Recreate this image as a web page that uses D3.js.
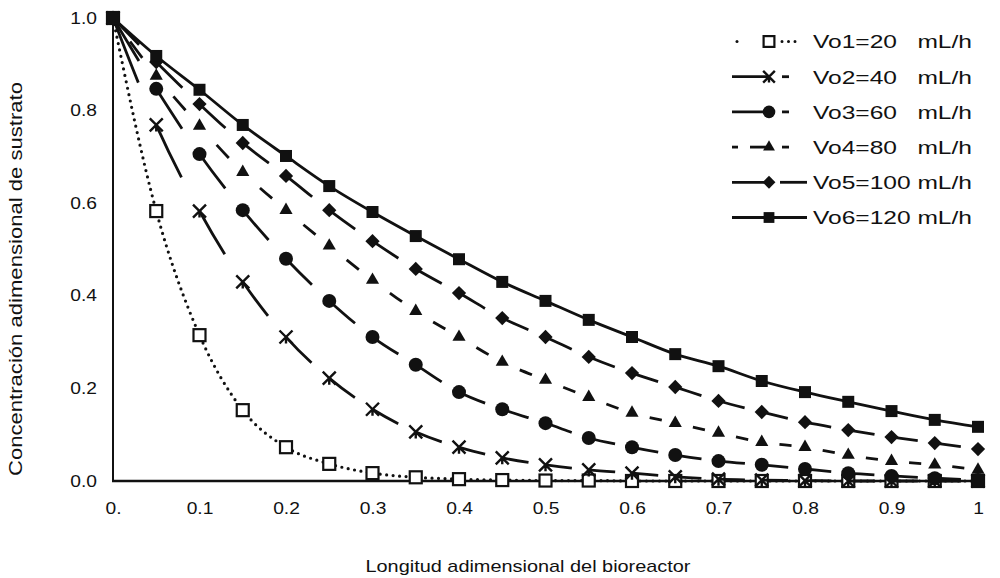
<!DOCTYPE html>
<html><head><meta charset="utf-8">
<script src="https://cdn.jsdelivr.net/npm/d3@7"></script>
<style>body{margin:0;background:#fff}svg{display:block}text{font-family:"Liberation Sans",Arial,sans-serif;fill:#111}</style>
</head><body>
<svg id="c" width="1000" height="578"></svg>
<script>
const xVals = [0,0.05,0.1,0.15,0.2,0.25,0.3,0.35,0.4,0.45,0.5,0.55,0.6,0.65,0.7,0.75,0.8,0.85,0.9,0.95,1.0];
const vo1 = [1.0,0.583,0.315,0.153,0.073,0.037,0.017,0.008,0.004,0.002,0.001,0.001,0,0,0,0,0,0,0,0,0];
const vo2 = [1.0,0.769,0.583,0.43,0.311,0.222,0.155,0.106,0.073,0.05,0.035,0.024,0.017,0.009,0.004,0.002,0.001,0,0,0,0];
const vo3 = [1.0,0.847,0.706,0.585,0.48,0.389,0.311,0.251,0.192,0.155,0.125,0.093,0.073,0.056,0.043,0.035,0.026,0.017,0.011,0.006,0.002];
const vo4 = [1.0,0.875,0.767,0.667,0.585,0.508,0.434,0.367,0.311,0.257,0.218,0.181,0.147,0.125,0.104,0.084,0.073,0.056,0.043,0.035,0.024];
const vo5 = [1.0,0.905,0.814,0.73,0.659,0.585,0.518,0.458,0.406,0.352,0.311,0.268,0.233,0.203,0.173,0.149,0.127,0.11,0.095,0.082,0.069];
const vo6 = [1.0,0.918,0.845,0.769,0.702,0.637,0.581,0.529,0.479,0.43,0.389,0.348,0.311,0.274,0.248,0.216,0.192,0.171,0.151,0.132,0.117];
const seriesNames = ["Vo1=20   mL/h","Vo2=40   mL/h","Vo3=60   mL/h","Vo4=80   mL/h","Vo5=100 mL/h","Vo6=120 mL/h"];
const xTickVals = [0,0.1,0.2,0.3,0.4,0.5,0.6,0.7,0.8,0.9,1];
const xTickLabels = ["0.","0.1","0.2","0.3","0.4","0.5","0.6","0.7","0.8","0.9","1"];
const yTickVals = [0,0.2,0.4,0.6,0.8,1.0];
const yTickLabels = ["0.0","0.2","0.4","0.6","0.8","1.0"];

const svg = d3.select("#c");
const x = d3.scaleLinear().domain([0,1]).range([113,978]);
const y = d3.scaleLinear().domain([0,1]).range([481,18]);
const INK = "#111";

const series = [vo1,vo2,vo3,vo4,vo5,vo6];
const styles = [
  {dash:"dot", marker:"openSquare"},
  {dash:"tail", marker:"star"},
  {dash:"tail", marker:"circle"},
  {dash:"mid", marker:"triangle"},
  {dash:"tail", marker:"diamond"},
  {dash:"solid", marker:"square"}
];

const line = d3.line().x(d=>x(d[0])).y(d=>y(d[1])).curve(d3.curveMonotoneX);

function stretch(sel, k){
  sel.each(function(){
    const w = this.getComputedTextLength();
    d3.select(this).attr("textLength", w*k).attr("lengthAdjust","spacingAndGlyphs");
  });
}

function drawMarker(g, type, cx, cy, scale){
  const s = scale||1;
  if(type==="openSquare"){
    g.append("rect").attr("x",cx-6*s).attr("y",cy-6*s).attr("width",12*s).attr("height",12*s)
      .attr("fill","#fff").attr("stroke",INK).attr("stroke-width",2.2);
  } else if(type==="square"){
    g.append("rect").attr("x",cx-6*s).attr("y",cy-6*s).attr("width",12*s).attr("height",12*s).attr("fill",INK);
  } else if(type==="circle"){
    g.append("circle").attr("cx",cx).attr("cy",cy).attr("r",7*s).attr("fill",INK);
  } else if(type==="diamond"){
    g.append("path").attr("d",d3.symbol(d3.symbolDiamond2, 130*s*s)()).attr("transform",`translate(${cx},${cy})`).attr("fill",INK);
  } else if(type==="triangle"){
    g.append("path").attr("d",d3.symbol(d3.symbolTriangle, 75*s*s)()).attr("transform",`translate(${cx},${cy})`).attr("fill",INK);
  } else if(type==="star"){
    const r=6.5*s;
    g.append("path").attr("d",`M${cx-r},${cy-r}L${cx+r},${cy+r}M${cx+r},${cy-r}L${cx-r},${cy+r}M${cx},${cy}L${cx},${cy+r}`)
      .attr("stroke",INK).attr("stroke-width",2.4).attr("fill","none");
  }
}

// axes
svg.append("line").attr("x1",x(0)).attr("x2",x(0)).attr("y1",y(1)-2).attr("y2",y(0)+1).attr("stroke",INK).attr("stroke-width",2);
svg.append("line").attr("x1",x(0)-1).attr("x2",x(1)+3).attr("y1",y(0)).attr("y2",y(0)).attr("stroke",INK).attr("stroke-width",2.4);

const xAxis = d3.axisBottom(x).tickValues(xTickVals).tickSize(0).tickPadding(22)
  .tickFormat((d,i)=>xTickLabels[i]);
svg.append("g").attr("transform",`translate(0,${y(0)})`).call(xAxis)
  .call(g=>g.select(".domain").remove())
  .call(g=>g.selectAll("text").attr("font-size",16).attr("font-family","Liberation Sans, Arial, sans-serif").attr("fill",INK).call(stretch,1.2));
const yAxis = d3.axisLeft(y).tickValues(yTickVals).tickSize(0).tickPadding(16)
  .tickFormat((d,i)=>yTickLabels[i]);
svg.append("g").attr("transform",`translate(${x(0)},0)`).call(yAxis)
  .call(g=>g.select(".domain").remove())
  .call(g=>g.selectAll("text").attr("font-size",16).attr("font-family","Liberation Sans, Arial, sans-serif").attr("fill",INK).call(stretch,1.2));

svg.append("text").attr("x",528).attr("y",572).attr("text-anchor","middle").attr("font-size",17)
  .attr("textLength",325).attr("lengthAdjust","spacingAndGlyphs")
  .text("Longitud adimensional del bioreactor");
svg.append("text").attr("transform","translate(22,279) rotate(-90)").attr("text-anchor","middle").attr("font-size",19)
  .attr("textLength",394).attr("lengthAdjust","spacingAndGlyphs")
  .text("Concentración adimensional de sustrato");

// lines
series.forEach((vals,si)=>{
  const pts = xVals.map((xv,i)=>[xv,vals[i]]);
  const st = styles[si];
  const p = svg.append("path").attr("d",line(pts)).attr("fill","none").attr("stroke",INK).attr("stroke-width",2.8);
  const node = p.node();
  const total = node.getTotalLength();
  if(st.dash==="dot"){
    p.attr("stroke-dasharray","0,6.5").attr("stroke-linecap","round").attr("stroke-width",3.2);
  } else if(st.dash!=="solid"){
    const targets = pts.map(d=>x(d[0]));
    const lens = [0]; let k=1;
    for(let L=0; L<=total && k<targets.length; L+=0.5){
      const pt = node.getPointAtLength(L);
      if(pt.x>=targets[k]){ lens.push(L); k++; }
    }
    while(lens.length<targets.length) lens.push(total);
    const arr=[];
    for(let i=1;i<lens.length;i++){
      const sl = lens[i]-lens[i-1];
      if(st.dash==="tail"){ arr.push(sl*0.6, sl*0.4); }
      else { arr.push(0, sl*0.4, sl*0.28, sl*0.32); }
    }
    p.attr("stroke-dasharray",arr.join(","));
  }
  const mg = svg.append("g");
  pts.forEach(d=>drawMarker(mg, st.marker, x(d[0]), y(d[1])));
});

// legend
const legRows = [41.5,76.7,111.9,147.1,182.3,217.5];
const lg = svg.append("g");
function seg(x1,x2,ly){ lg.append("line").attr("x1",x1).attr("x2",x2).attr("y1",ly).attr("y2",ly).attr("stroke",INK).attr("stroke-width",2.8); }
legRows.forEach((ly,i)=>{
  const st = styles[i];
  const mx = 769;
  if(i===0){
    lg.append("line").attr("x1",737).attr("x2",743).attr("y1",ly).attr("y2",ly).attr("stroke",INK).attr("stroke-width",3).attr("stroke-dasharray","0,6").attr("stroke-linecap","round");
    lg.append("line").attr("x1",782).attr("x2",796).attr("y1",ly).attr("y2",ly).attr("stroke",INK).attr("stroke-width",3).attr("stroke-dasharray","0,6.5").attr("stroke-linecap","round");
  } else if(i===1 || i===2){
    seg(732,mx,ly); seg(782,789,ly);
  } else if(i===3){
    seg(732,738,ly); seg(750,mx,ly); seg(782,789,ly);
  } else if(i===4){
    seg(732,mx,ly); seg(780,807,ly);
  } else {
    seg(732,807,ly);
  }
  drawMarker(lg, st.marker, mx, ly, 0.9);
  lg.append("text").attr("x",813).attr("y",ly+6.8).attr("font-size",18.5)
    .attr("textLength",159).attr("lengthAdjust","spacingAndGlyphs")
    .attr("xml:space","preserve").style("white-space","pre").text(seriesNames[i]);
});
</script>
</body></html>
